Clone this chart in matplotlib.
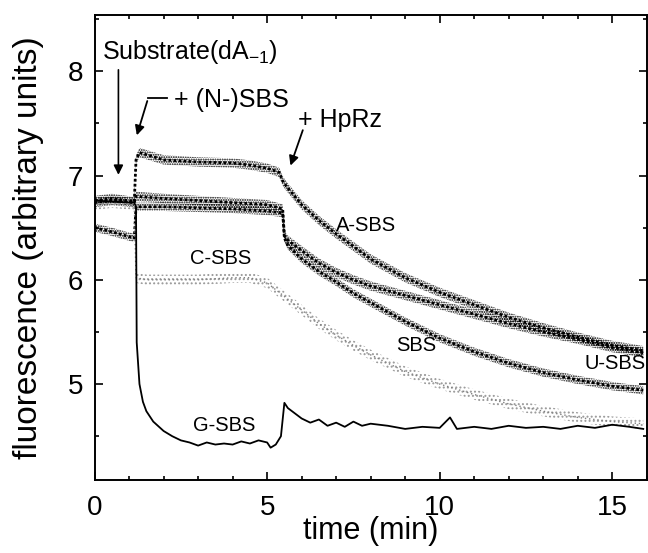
import numpy as np
import matplotlib.pyplot as plt
from matplotlib.ticker import MultipleLocator

plt.rcParams['font.family'] = ['Liberation Sans', 'DejaVu Sans']
plt.rcParams['mathtext.fontset'] = 'custom'
plt.rcParams['mathtext.rm'] = 'Liberation Sans'
plt.rcParams['mathtext.it'] = 'Liberation Sans'
plt.rcParams['hatch.linewidth'] = 0.9

# traces (time in min, fluorescence in a.u.)
t_a = [0, 0.5, 1.15, 1.2, 1.3, 2, 3, 4, 4.5, 5, 5.35, 5.45, 5.55, 6, 6.5, 7, 7.5, 8, 9, 10, 11, 12, 13, 14, 15, 15.9]
y_a = [6.76, 6.78, 6.75, 7.15, 7.22, 7.15, 7.13, 7.12, 7.1, 7.07, 7.03, 6.95, 6.9, 6.72, 6.57, 6.44, 6.32, 6.2, 6.02, 5.88, 5.76, 5.64, 5.54, 5.45, 5.37, 5.32]

t_u = [0, 0.5, 1.15, 1.2, 2, 3, 4, 5, 5.45, 5.5, 5.6, 6, 6.5, 7, 7.5, 8, 9, 10, 11, 12, 13, 14, 15, 15.9]
y_u = [6.74, 6.76, 6.74, 6.8, 6.78, 6.76, 6.74, 6.72, 6.68, 6.42, 6.38, 6.28, 6.16, 6.07, 6.0, 5.94, 5.85, 5.76, 5.67, 5.58, 5.5, 5.43, 5.35, 5.3]

t_s = [0, 0.5, 1.15, 1.2, 2, 3, 4, 5, 5.45, 5.5, 5.6, 6, 6.5, 7, 7.5, 8, 9, 10, 11, 12, 13, 14, 15, 15.9]
y_s = [6.5, 6.46, 6.4, 6.7, 6.7, 6.69, 6.68, 6.66, 6.64, 6.4, 6.33, 6.2, 6.08, 5.98, 5.87, 5.78, 5.6, 5.44, 5.31, 5.2, 5.11, 5.04, 4.98, 4.94]

t_c = [0, 0.5, 1.15, 1.2, 1.5, 2, 3, 4, 4.5, 5, 5.5, 6, 6.5, 7, 7.5, 8, 9, 10, 11, 12, 13, 14, 15, 15.9]
y_c = [6.72, 6.74, 6.72, 6.02, 6.0, 6.0, 6.0, 6.02, 6.02, 5.97, 5.84, 5.71, 5.58, 5.47, 5.37, 5.28, 5.12, 5.0, 4.9, 4.81, 4.74, 4.68, 4.64, 4.62]

t_g = [0, 0.5, 1.15, 1.2, 1.22, 1.3, 1.4, 1.5, 1.7, 2.0, 2.25, 2.5, 2.75, 3.0, 3.25, 3.5, 3.75, 4.0, 4.25,
       4.5, 4.75, 5.0, 5.1, 5.25, 5.4, 5.5, 5.6, 5.8, 6.0, 6.25, 6.5, 6.75, 7.0, 7.25, 7.5, 7.75, 8.0, 8.5,
       9.0, 9.5, 10.0, 10.3, 10.5, 11.0, 11.5, 12.0, 12.5, 13.0, 13.5, 14.0, 14.5, 15.0, 15.5, 15.9]
y_g = [6.76, 6.75, 6.74, 6.7, 5.4, 5.0, 4.83, 4.74, 4.64, 4.55, 4.5, 4.46, 4.44, 4.41, 4.44, 4.42, 4.43, 4.42, 4.45,
       4.43, 4.46, 4.44, 4.39, 4.42, 4.5, 4.82, 4.77, 4.72, 4.67, 4.63, 4.66, 4.6, 4.63, 4.59, 4.64, 4.6, 4.62, 4.6,
       4.57, 4.59, 4.58, 4.68, 4.57, 4.59, 4.57, 4.6, 4.58, 4.59, 4.57, 4.6, 4.58, 4.61, 4.59, 4.57]

fig = plt.figure(figsize=(6.48, 5.53), dpi=100)
ax = fig.add_axes([0.146, 0.132, 0.852, 0.841])

# speckled bands for the dotted traces
for t, y, w in [(t_a, y_a, 0.045), (t_u, y_u, 0.045), (t_s, y_s, 0.04)]:
    t = np.array(t)
    y = np.array(y)
    ax.fill_between(t, y - w, y + w, facecolor='none', edgecolor='black',
                    hatch='.......', linewidth=0)
    ax.plot(t, y, color='black', lw=2.0, ls=(0, (1.0, 0.8)))
t = np.array(t_c)
y = np.array(y_c)
ax.fill_between(t, y - 0.05, y + 0.05, facecolor='none', edgecolor='0.6',
                hatch='....', linewidth=0)
ax.plot(t, y, color='0.5', lw=1.0, ls=(0, (1, 2)))
ax.plot(t_g, y_g, color='black', lw=1.3)

ax.set_xlim(0, 16)
ax.set_ylim(4.08, 8.54)
ax.xaxis.set_major_locator(MultipleLocator(5))
ax.xaxis.set_minor_locator(MultipleLocator(1))
ax.yaxis.set_major_locator(MultipleLocator(1))
ax.yaxis.set_minor_locator(MultipleLocator(0.5))
ax.tick_params(which='both', direction='in', top=True, right=True, width=1.2)
ax.tick_params(which='major', length=6, labelsize=20, pad=8)
ax.tick_params(axis='x', which='major', pad=11)
ax.tick_params(which='minor', length=3)
for s in ax.spines.values():
    s.set_linewidth(1.4)

ax.set_xlabel('time (min)', fontsize=22, labelpad=-4)
ax.set_ylabel('fluorescence (arbitrary units)', fontsize=24, labelpad=17)

# annotations
ax.text(0.2, 8.18, 'Substrate(dA$_{-1}$)', fontsize=18, va='center', ha='left')
ax.annotate('', xy=(0.69, 6.98), xytext=(0.69, 8.04),
            arrowprops=dict(arrowstyle='-|>', color='black', lw=1.2, mutation_scale=14))
ax.text(2.3, 7.72, '+ (N-)SBS', fontsize=18, va='center', ha='left')
ax.plot([1.55, 2.1], [7.74, 7.74], color='black', lw=1.3)
ax.annotate('', xy=(1.2, 7.36), xytext=(1.55, 7.74),
            arrowprops=dict(arrowstyle='-|>', color='black', lw=1.3, mutation_scale=14))
ax.text(5.9, 7.53, '+ HpRz', fontsize=18, va='center', ha='left')
ax.annotate('', xy=(5.65, 7.07), xytext=(6.06, 7.46),
            arrowprops=dict(arrowstyle='-|>', color='black', lw=1.3, mutation_scale=14))

ax.text(7.0, 6.52, 'A-SBS', fontsize=14.5, va='center', ha='left')
ax.text(2.76, 6.2, 'C-SBS', fontsize=14.5, va='center', ha='left')
ax.text(8.74, 5.37, 'SBS', fontsize=14.5, va='center', ha='left')
ax.text(14.2, 5.2, 'U-SBS', fontsize=14.5, va='center', ha='left')
ax.text(2.84, 4.6, 'G-SBS', fontsize=14.5, va='center', ha='left')

fig.savefig('out.png', dpi=100)
